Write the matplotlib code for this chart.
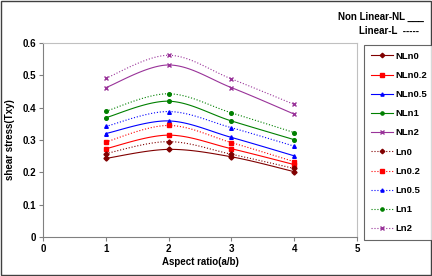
import matplotlib
matplotlib.use("Agg")
import matplotlib.pyplot as plt
import numpy as np

plt.rcParams["font.family"] = ["Liberation Sans", "DejaVu Sans"]
plt.rcParams["font.weight"] = "bold"

aspect = [1, 2, 3, 4]

names = ["NLn0", "NLn0.2", "NLn0.5", "NLn1", "NLn2",
         "Ln0", "Ln0.2", "Ln0.5", "Ln1", "Ln2"]
nl_n0 = [0.243, 0.271, 0.248, 0.202]
nl_n02 = [0.273, 0.315, 0.273, 0.224]
nl_n05 = [0.320, 0.359, 0.308, 0.251]
nl_n1 = [0.369, 0.420, 0.359, 0.301]
nl_n2 = [0.462, 0.532, 0.462, 0.380]
l_n0 = [0.258, 0.295, 0.256, 0.212]
l_n02 = [0.294, 0.345, 0.292, 0.233]
l_n05 = [0.342, 0.388, 0.338, 0.281]
l_n1 = [0.389, 0.443, 0.384, 0.323]
l_n2 = [0.491, 0.562, 0.489, 0.410]
series = [nl_n0, nl_n02, nl_n05, nl_n1, nl_n2, l_n0, l_n02, l_n05, l_n1, l_n2]

colors = ["#800000", "#ff0000", "#0000ff", "#008000", "#993399"] * 2
markers = ["D", "s", "^", "o", "x"] * 2
styles = ["-"] * 5 + [":"] * 5


def smooth(x, y, n=30):
    # Excel-style smoothed line (Catmull-Rom)
    x = np.asarray(x, float)
    y = np.asarray(y, float)
    px = np.concatenate([[x[0]], x, [x[-1]]])
    py = np.concatenate([[y[0]], y, [y[-1]]])
    xs, ys = [], []
    for i in range(1, len(px) - 2):
        t = np.linspace(0, 1, n)
        p0, p1, p2, p3 = (np.array([px[j], py[j]]) for j in range(i - 1, i + 3))
        c1 = p1 + (p2 - p0) / 6
        c2 = p2 - (p3 - p1) / 6
        b = ((1 - t) ** 3)[:, None] * p1 + (3 * (1 - t) ** 2 * t)[:, None] * c1 \
            + (3 * (1 - t) * t ** 2)[:, None] * c2 + (t ** 3)[:, None] * p2
        xs.extend(b[:, 0])
        ys.extend(b[:, 1])
    return xs, ys


fig = plt.figure(figsize=(4.32, 2.76), dpi=100)
ax = fig.add_axes([43 / 432, 1 - 237 / 276, 314 / 432, 194 / 276])

for name, vals, c, m, ls in zip(names, series, colors, markers, styles):
    sx, sy = smooth(aspect, vals)
    ax.plot(sx, sy, color=c, ls=ls, lw=0.8)
    ax.plot(aspect, vals, ls="none", marker=m, color=c, ms=2.6, mew=1)
    ax.plot([], [], color=c, ls=ls, lw=0.8, marker=m, ms=2.3, label=name)

ax.set_xlim(0, 5)
ax.set_ylim(0, 0.6)
ax.set_xticks(range(0, 6))
ax.set_yticks(np.arange(0, 0.61, 0.1))
ax.set_yticklabels(["0", "0.1", "0.2", "0.3", "0.4", "0.5", "0.6"])
ax.tick_params(labelsize=7, length=3, width=0.8, color="#808080", pad=2)
for lab in ax.get_xticklabels() + ax.get_yticklabels():
    lab.set_fontweight("bold")
ax.spines["left"].set_color("#808080")
ax.spines["bottom"].set_color("#808080")
ax.spines["top"].set_color("#c0c0c0")
ax.spines["right"].set_color("#c0c0c0")
ax.set_xlabel("Aspect ratio(a/b)", fontsize=7, fontweight="bold", labelpad=2)
ax.set_ylabel("shear stress(Txy)", fontsize=7, fontweight="bold", labelpad=5)

leg = fig.legend(loc="upper left", bbox_to_anchor=(364 / 432, 1 - 45 / 276),
                 fontsize=6.8, frameon=True, fancybox=False, edgecolor="#404040",
                 handlelength=2.4, labelspacing=1.08, borderpad=0.7,
                 handletextpad=0.2, borderaxespad=0)
leg.get_frame().set_linewidth(0.8)
for t in leg.get_texts():
    t.set_fontweight("bold")

fig.text(424 / 432, 1 - 17 / 276, "Non Linear-NL ___", fontsize=7,
         fontweight="bold", ha="right", va="center")
fig.text(419 / 432, 1 - 31 / 276, "Linear-L  -----", fontsize=7,
         fontweight="bold", ha="right", va="center")

border = plt.Rectangle((0.002, 0.003), 0.995, 0.993, transform=fig.transFigure,
                       fill=False, edgecolor="#404040", lw=1)
fig.patches.append(border)

fig.savefig("out.png", dpi=100)
